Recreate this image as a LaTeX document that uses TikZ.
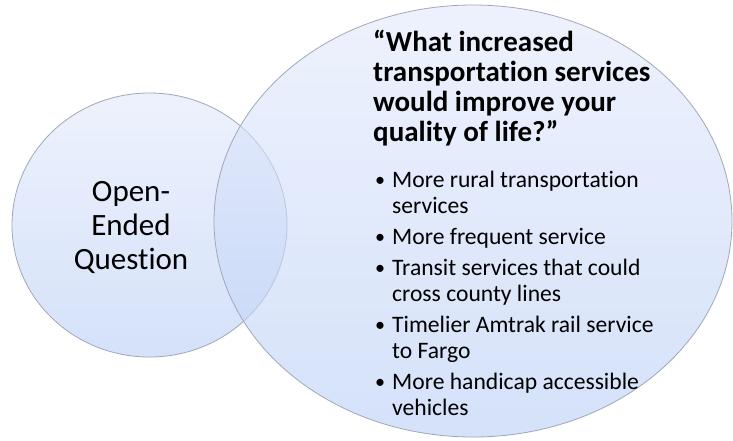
\documentclass[tikz,border=0pt]{standalone}
\usepackage{fontspec}
\setmainfont{Carlito}[Ligatures=NoCommon]
\usetikzlibrary{shapes.geometric}
\definecolor{topc}{rgb}{0.889,0.915,0.987}
\definecolor{botc}{rgb}{0.725,0.810,0.967}
\definecolor{rimc}{HTML}{A0A8B8}
\newcommand{\blt}{\llap{\raisebox{0.5pt}{\scalebox{0.85}{•}}\hspace{7pt}}}
\tikzset{
  venn/.style={ellipse, draw=rimc, line width=0.8pt, top color=topc, bottom color=botc,
    fill opacity=0.6, draw opacity=1, inner sep=0pt},
  bigtext/.style={font=\fontsize{31}{34}\selectfont, align=center, inner sep=0pt},
  titletext/.style={font=\bfseries\fontsize{29}{30}\selectfont, align=left, inner sep=0pt, anchor=base west},
  listtext/.style={font=\fontsize{23.6}{26}\selectfont, align=left, inner sep=0pt, anchor=base west}
}
\begin{document}
\begin{tikzpicture}[x=1pt,y=-1pt]
\fill[white] (0,0) rectangle (733,440);
\useasboundingbox (0,0) rectangle (733,440);
\node[venn, minimum width=275pt, minimum height=264pt] (small) at (149.5,225) {};
\node[venn, minimum width=518pt, minimum height=432pt] (big) at (473,221) {};
\node[bigtext] (q) at (131,227) {Open-\\Ended\\Question};
\node[titletext] (title) at (373,141) {“What increased\\transportation services\\would improve your\\quality of life?”};
\node[listtext] (list) at (392,415) {\blt More rural transportation\\services\\[5pt]
\blt More frequent service\\[5pt]
\blt Transit services that could\\cross county lines\\[5pt]
\blt Timelier Amtrak rail service\\to Fargo\\[5pt]
\blt More handicap accessible\\vehicles};
\end{tikzpicture}
\end{document}
